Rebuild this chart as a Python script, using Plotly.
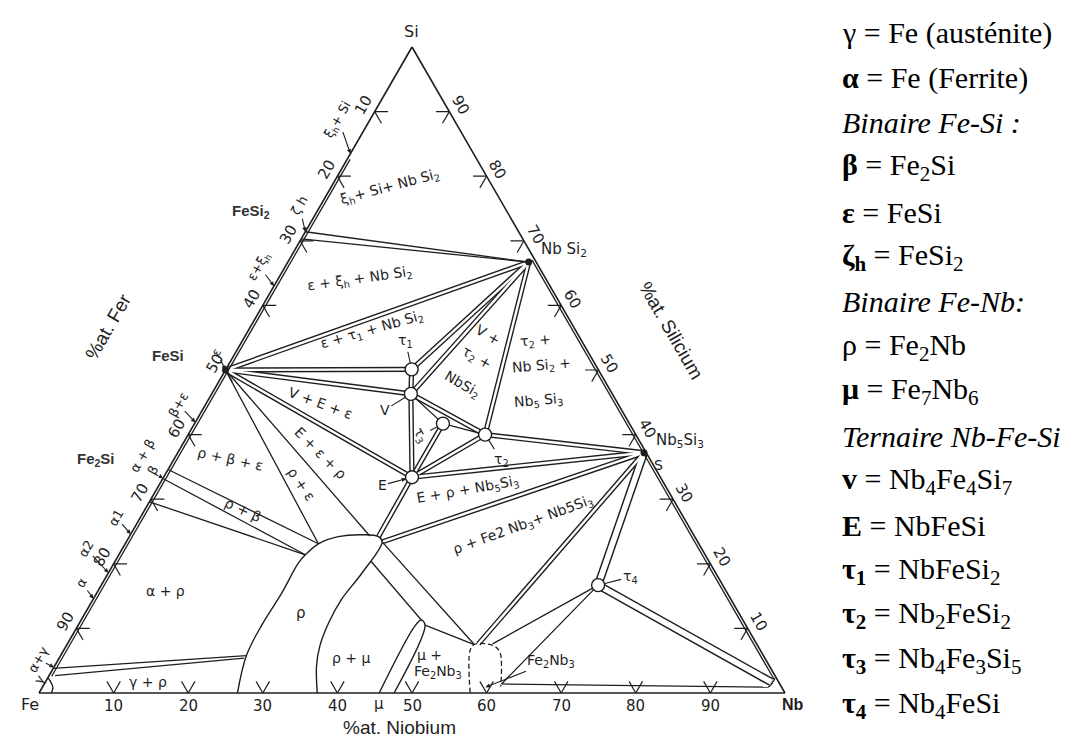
import plotly.graph_objects as go

# ------------------------------------------------------------------
# DATA  - compositions in at.%  written as (Fe, Nb, Si)
# ------------------------------------------------------------------
FESI      = (50.0, 0.0, 50.0)    # epsilon
ZH_HI     = (28.6, 0.0, 71.4)    # zeta_h, Si-rich limit
ZH_LO     = (29.7, 0.0, 70.3)    # zeta_h, Fe-rich limit
NBSI2     = (1.0, 32.3, 66.7)
TAU1      = (25.0, 24.9, 50.1)
V_PH      = (27.0, 26.7, 46.3)
TAU3      = (25.0, 33.3, 41.7)
TAU2      = (20.2, 39.8, 40.0)
E_PH      = (33.3, 33.3, 33.4)
NB5SI3    = (0.3, 62.5, 37.2)
TAU4      = (16.7, 66.6, 16.7)
BETA_HI   = (65.4, 0.0, 34.6)
BETA_LO   = (66.8, 0.0, 33.2)
ALPHA1    = (70.4, 0.0, 29.6)
AG_HI     = (96.2, 0.0, 3.8)
AG_LO     = (96.5, 0.8, 2.7)
RHO_A     = (69.3, 24.9, 5.8)
RHO_B     = (69.8, 24.8, 5.4)
RHO_P1    = (51.0, 25.9, 23.1)
RHO_P2    = (53.6, 25.0, 21.4)
RHO_T     = (43.5, 32.2, 24.3)
RHO_TR    = (42.4, 33.4, 24.2)
RHO_C     = (42.3, 34.3, 23.4)
RHO_R     = (45.3, 34.3, 20.4)
MU_TOP    = (43.1, 45.6, 11.3)
MU_TR     = (43.0, 46.5, 10.5)
FE2NB3_T  = (37.3, 55.1, 7.6)
FE2NB3_TL = (37.9, 54.6, 7.5)
FE2NB3_TR = (35.4, 57.0, 7.6)
FE2NB3_BR = (37.3, 61.3, 1.4)
NB_SS     = (1.0, 97.3, 1.7)
NB_SS2    = (1.8, 97.3, 0.9)

RHO_REGION = [(73.4, 26.6, 0.0), (69.3, 24.9, 5.8), (65.0, 24.6, 10.4), (59.7, 24.8, 15.5),
              (55.2, 24.7, 20.1), (53.6, 25.0, 21.4), (51.0, 25.9, 23.1), (47.8, 28.0, 24.2),
              (44.3, 31.2, 24.5), (42.4, 33.4, 24.2), (42.3, 34.3, 23.4), (47.5, 34.0, 18.5),
              (52.2, 33.3, 14.5), (55.8, 33.4, 10.8), (58.7, 34.0, 7.3), (60.7, 35.1, 4.2),
              (62.7, 37.3, 0.0)]
MU_REGION = [(54.4, 45.6, 0.0), (44.4, 45.2, 10.4), (43.1, 45.6, 11.3), (43.0, 46.5, 10.5),
             (52.4, 47.6, 0.0)]
FE2NB3_BOX = [(42.2, 57.8, 0.0), (38.95, 54.5, 6.55), (37.9, 54.6, 7.5), (36.2, 56.2, 7.6),
              (35.2, 57.7, 7.1), (35.1, 58.8, 6.1), (37.6, 61.4, 1.0)]
GAMMA_LOOP = [(98.35, 1.65, 0.0), (97.7, 1.4, 0.9), (97.6, 0.1, 2.3)]
NB_LOOP = [(1.8, 97.3, 0.9), (1.2, 97.5, 1.3), (0.2, 97.5, 2.3)]
FESI_INNER = [(17.0, 0.4, 82.6), (97.0, 0.4, 2.6)]
NBSI_INNER = [(0.4, 32.6, 67.0), (0.4, 97.4, 2.2)]

# two-phase bands (drawn as double lines)
BANDS = [(FESI, NBSI2), (FESI, TAU1), (FESI, V_PH), (FESI, E_PH),
         (TAU1, NBSI2), (V_PH, NBSI2), (TAU2, NBSI2),
         (TAU1, V_PH), (V_PH, E_PH), (V_PH, TAU2), (TAU3, E_PH), (E_PH, TAU2),
         (E_PH, NB5SI3), (TAU2, NB5SI3), (E_PH, RHO_TR), (RHO_C, NB5SI3),
         (FE2NB3_T, NB5SI3)]
WIDE_BANDS = [(TAU4, NB5SI3), (TAU4, NB_SS)]
# single tie lines
TIES = [(ZH_HI, NBSI2), (ZH_LO, NBSI2), (FESI, RHO_P1), (FESI, RHO_T),
        (BETA_HI, RHO_P1), (BETA_LO, RHO_P2), (ALPHA1, RHO_P2),
        (AG_HI, RHO_A), (AG_LO, RHO_B), (V_PH, TAU3), (TAU3, TAU2),
        (RHO_R, MU_TOP), (RHO_C, FE2NB3_TL), (MU_TR, FE2NB3_TL),
        (TAU4, FE2NB3_TR), (TAU4, FE2NB3_BR),
        (FE2NB3_BR, NB_SS2), (FESI_INNER[0], FESI_INNER[1]), (NBSI_INNER[0], NBSI_INNER[1])]

CIRCLED = [TAU1, V_PH, TAU3, TAU2, E_PH, TAU4]
DOTS = [FESI, NBSI2, NB5SI3]

TICKS = [10, 20, 30, 40, 50, 60, 70, 80, 90]

LEGEND_ITEMS = [
    "γ = Fe (austénite)",
    "<b>α</b> = Fe (Ferrite)",
    "<i>Binaire Fe-Si :</i>",
    "<b>β</b> = Fe<sub>2</sub>Si",
    "<b>ε</b> = FeSi",
    "<b>ζ<sub>h</sub></b> = FeSi<sub>2</sub>",
    "<i>Binaire Fe-Nb:</i>",
    "ρ = Fe<sub>2</sub>Nb",
    "<b>μ</b> = Fe<sub>7</sub>Nb<sub>6</sub>",
    "<i>Ternaire Nb-Fe-Si</i>",
    "<b>v</b> = Nb<sub>4</sub>Fe<sub>4</sub>Si<sub>7</sub>",
    "<b>E</b> = NbFeSi",
    "<b>τ<sub>1</sub></b> = NbFeSi<sub>2</sub>",
    "<b>τ<sub>2</sub></b> = Nb<sub>2</sub>FeSi<sub>2</sub>",
    "<b>τ<sub>3</sub></b> = Nb<sub>4</sub>Fe<sub>3</sub>Si<sub>5</sub>",
    "<b>τ<sub>4</sub></b> = Nb<sub>4</sub>FeSi",
]

# ------------------------------------------------------------------
# Layout / style
# ------------------------------------------------------------------
W, H = 1074, 736
ML, MR, MT, MB = 31, 297, 39, 51
INK = "#1e1e1e"
STUB = 1.8

def abc(points):
    a, b, c = [], [], []
    for p in points:
        if p is None:
            a.append(None); b.append(None); c.append(None)
        else:
            fe, nb, si = p
            a.append(si); b.append(fe); c.append(nb)
    return a, b, c

def seg_trace(pairs, color, width, dash=None):
    pts = []
    for p, q in pairs:
        pts += [p, q, None]
    a, b, c = abc(pts)
    return go.Scatterternary(a=a, b=b, c=c, mode="lines", cliponaxis=False,
                             line=dict(color=color, width=width, dash=dash),
                             hoverinfo="skip", showlegend=False)

def curve_trace(pts, width=1.4, dash=None, shape="spline"):
    a, b, c = abc(pts)
    return go.Scatterternary(a=a, b=b, c=c, mode="lines", cliponaxis=False,
                             line=dict(color=INK, width=width, dash=dash, shape=shape),
                             hoverinfo="skip", showlegend=False)

fig = go.Figure()

# chevron tick marks
stubs = []
for k in TICKS:
    p = (100 - k, k, 0)
    stubs += [(p, (100 - k - STUB, k, STUB)), (p, (100 - k, k - STUB, STUB))]
    p = (k, 0, 100 - k)
    stubs += [(p, (k - STUB, STUB, 100 - k)), (p, (k, STUB, 100 - k - STUB))]
    p = (0, 100 - k, k)
    stubs += [(p, (STUB, 100 - k - STUB, k)), (p, (STUB, 100 - k, k - STUB))]
fig.add_trace(seg_trace(stubs, INK, 1.2))

fig.add_trace(seg_trace(BANDS, INK, 5.2))
fig.add_trace(seg_trace(WIDE_BANDS, INK, 8.5))
fig.add_trace(seg_trace(BANDS, "white", 2.4))
fig.add_trace(seg_trace(WIDE_BANDS, "white", 5.6))
fig.add_trace(seg_trace(TIES, INK, 1.3))

fig.add_trace(curve_trace(RHO_REGION))
fig.add_trace(curve_trace(MU_REGION))
fig.add_trace(curve_trace(FE2NB3_BOX, width=1.3, dash="5px,3px"))
fig.add_trace(curve_trace(GAMMA_LOOP))
fig.add_trace(curve_trace(NB_LOOP))

a, b, c = abc(DOTS)
fig.add_trace(go.Scatterternary(a=a, b=b, c=c, mode="markers", cliponaxis=False,
                                marker=dict(size=7, color=INK), hoverinfo="skip", showlegend=False))
a, b, c = abc(CIRCLED)
fig.add_trace(go.Scatterternary(a=a, b=b, c=c, mode="markers", cliponaxis=False,
                                marker=dict(size=13, color="white", line=dict(color=INK, width=1.4)),
                                hoverinfo="skip", showlegend=False))

axis_style = dict(showticklabels=False, ticks="", showgrid=False, linecolor=INK,
                  linewidth=1.6, title=dict(text=""), min=0)
fig.update_layout(
    width=W, height=H, autosize=False,
    margin=dict(l=ML, r=MR, t=MT, b=MB, pad=0),
    paper_bgcolor="white", plot_bgcolor="white", hovermode=False,
    ternary=dict(sum=100, bgcolor="white", domain=dict(x=[0, 1], y=[0, 1]),
                 aaxis=axis_style, baxis=axis_style, caxis=axis_style),
)

# ------------------------------------------------------------------
# Text
# ------------------------------------------------------------------
def tpaper(p):
    fe, nb, si = p
    s = fe + nb + si
    return (nb + si / 2) / s, si / s

def ppaper(x, y):  # reference-pixel position inside the diagram
    return (x - 30.7) / 746.0, (688.0 - y) / 652.0

def lpaper(x, y):  # reference-pixel position outside the diagram
    return (x - ML) / (W - ML - MR), (H - MB - y) / (H - MT - MB)

HAND = "DejaVu Sans, Liberation Sans, sans-serif"
ann = []

def text_at(xy, text, size=14, angle=0, family=HAND, color=INK, xanchor="center"):
    ann.append(dict(x=xy[0], y=xy[1], xref="paper", yref="paper", text=text, showarrow=False,
                    textangle=angle, xanchor=xanchor, yanchor="middle",
                    font=dict(family=family, size=size, color=color)))

def arrow_to(p, text, ax, ay, size=14, angle=0, head=2, standoff=0):
    x, y = tpaper(p)
    ann.append(dict(x=x, y=y, xref="paper", yref="paper", text=text, showarrow=True,
                    ax=ax, ay=ay, arrowhead=head, arrowsize=0.8, arrowwidth=1.1,
                    arrowcolor=INK, standoff=standoff, textangle=angle,
                    xanchor="center", yanchor="middle",
                    font=dict(family=HAND, size=size, color=INK)))

def tick_label(p, text, dx, dy, angle):
    x, y = tpaper(p)
    ann.append(dict(x=x, y=y, xref="paper", yref="paper", text=text, showarrow=False,
                    xshift=dx, yshift=dy, textangle=angle, xanchor="center", yanchor="middle",
                    font=dict(family=HAND, size=15, color=INK)))

# tick labels
D = 13
for k in TICKS:
    tick_label((k, 0, 100 - k), str(k), -0.866 * D, 0.5 * D, -60)
    tick_label((0, 100 - k, k), str(k), 0.866 * D, 0.5 * D, 60)
    tick_label((100 - k, k, 0), str(k), 0, -D, 0)
tick_label((54.4, 45.6, 0), "μ", 0, -D + 2, 0)

# corners and axis titles
SANS = "Liberation Sans, Arial, sans-serif"
text_at(ppaper(403, 20), "Si", 16)
text_at(ppaper(22, 700), "Fe", 16)
text_at(ppaper(785, 700), "<b>Nb</b>", 16, family=SANS)
text_at(ppaper(100, 318), "%at. Fer", 19, angle=-60, family=SANS)
text_at(ppaper(663, 322), "%at. Silicium", 19, angle=60, family=SANS)
text_at(ppaper(391, 723), "%at. Niobium", 19, family=SANS)

text_at(ppaper(243, 202), "<b>FeSi<sub>2</sub></b>", 15, family=SANS, color="#333")
text_at(ppaper(160, 347), "<b>FeSi</b>", 15, family=SANS, color="#333")
text_at(ppaper(88, 452), "<b>Fe<sub>2</sub>Si</b>", 15, family=SANS, color="#333")

# region labels: text, x, y (reference px), angle, size
REGION_LABELS = [
    ("ξ<sub>h</sub>+ Si+ Nb Si<sub>2</sub>", 382, 177, -15, 14),
    ("ε + ξ<sub>h</sub> + Nb Si<sub>2</sub>", 352, 270, -8, 14),
    ("ε + τ<sub>1</sub> + Nb Si<sub>2</sub>", 364, 322, -16, 14),
    ("V +", 480, 327, 30, 14), ("τ<sub>2</sub> +", 468, 350, 30, 14),
    ("NbSi<sub>2</sub>", 454, 377, 30, 14),
    ("τ<sub>2</sub> +", 527, 333, -5, 14), ("Nb Si<sub>2</sub> +", 533, 358, -5, 14),
    ("Nb<sub>5</sub> Si<sub>3</sub>", 530, 393, -5, 14),
    ("V + E + ε", 312, 395, 20, 14),
    ("E + ε + ρ", 312, 446, 45, 14),
    ("ρ + ε", 293, 477, 55, 14),
    ("ρ + β + ε", 222, 452, 12, 14),
    ("ρ + β", 235, 503, 25, 14),
    ("E + ρ + Nb<sub>5</sub>Si<sub>3</sub>", 460, 483, -10, 14),
    ("ρ + Fe2 Nb<sub>3</sub>+ Nb5Si<sub>3</sub>", 515, 518, -20, 14),
    ("α + ρ", 157, 585, 0, 14),
    ("ρ", 293, 607, 0, 15),
    ("ρ + μ", 343, 653, 0, 14),
    ("γ + ρ", 140, 677, 0, 14),
    ("μ +", 421, 650, 0, 14),
    ("Fe<sub>2</sub>Nb<sub>3</sub>", 430, 667, 0, 14),
    ("Nb Si<sub>2</sub>", 556, 240, 0, 15),
    ("Nb<sub>5</sub>Si<sub>3</sub>", 672, 433, 0, 15),
    ("S", 650, 458, 0, 14),
    ("α + β", 134, 448, -60, 13),
]
for t, x, y, ang, sz in REGION_LABELS:
    text_at(ppaper(x, y), t, sz, angle=ang)

# labels pointing at phases / edge positions
arrow_to(TAU1, "τ<sub>1</sub>", -6, -28, head=0, standoff=6)
arrow_to(V_PH, "V", -26, 16, head=0, standoff=6)
arrow_to(TAU3, "τ<sub>3</sub>", -22, 12, head=0, standoff=6, angle=60)
arrow_to(TAU2, "τ<sub>2</sub>", 16, 25, head=0, standoff=6)
arrow_to(E_PH, "E", -30, 8, head=2, standoff=6)
arrow_to(TAU4, "τ<sub>4</sub>", 32, -8, head=0, standoff=6)
arrow_to((39.7, 59.4, 0.9), "Fe<sub>2</sub>Nb<sub>3</sub>", 66, -26)
arrow_to((16.5, 0.0, 83.5), "ξ<sub>h</sub>+ Si", -12, -34, size=13, angle=-60)
arrow_to(ZH_HI, "ζ h", -6, -26, size=13, angle=-60)
arrow_to((37.0, 0.0, 63.0), "ε+ξ<sub>h</sub>", -15, -20, size=13, angle=-60)
arrow_to(FESI, "ε", -9, -18, size=12, angle=-60)
arrow_to((58.1, 0.0, 41.9), "β+ε", -17, -18, size=13, angle=-60)
arrow_to(BETA_LO, "β", -10, -8, size=13, angle=-60)
arrow_to((75.4, 0.0, 24.6), "α1", -15, -17, size=13, angle=-60)
arrow_to((81.4, 0.0, 18.6), "α2", -22, -24, size=13, angle=-60)
arrow_to((85.4, 0.0, 14.6), "α", -12, -16, size=13, angle=-60)
arrow_to((96.0, 0.0, 4.0), "α+γ", -16, -8, size=13, angle=-60)
text_at(ppaper(31, 674), "γ", 13, angle=-60)

# legend text on the right
LEG_X, LEG_Y0, LEG_DY = 832, 25, 44.8
for i, t in enumerate(LEGEND_ITEMS):
    x, y = lpaper(LEG_X, LEG_Y0 + i * LEG_DY)
    text_at((x, y), t, 30, family="Liberation Serif, Times New Roman, serif",
            color="black", xanchor="left")

fig.update_layout(annotations=ann)
fig.write_html("out.html")
